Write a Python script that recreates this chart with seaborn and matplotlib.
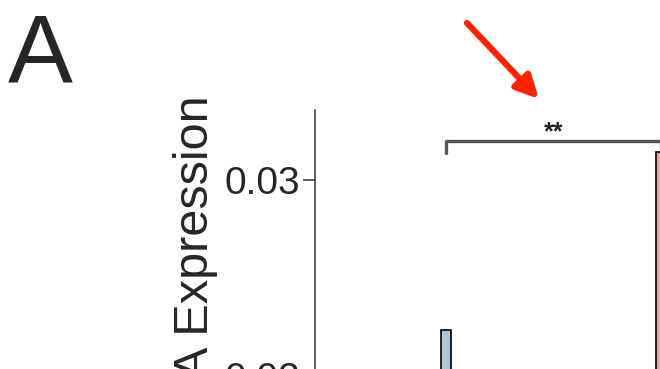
import matplotlib
matplotlib.use('Agg')
import matplotlib.pyplot as plt
import seaborn as sns

# data
grupos = ['Control', 'Treatment']
expressao = [0.02235, 0.03143]
cores = ['#a9c6df', '#e6a3a0']
yticks = [0.0, 0.01, 0.02, 0.03]
ytick_labels = ['0.00', '0.01', '0.02', '0.03']
significancia = '**'

sns.set_style('ticks')
plt.rcParams['font.family'] = ['Liberation Sans', 'DejaVu Sans']

fig = plt.figure(figsize=(6.6, 3.69), dpi=100)
# eixo maior que a figura: so o canto superior esquerdo aparece
largura = 453.5
ax = fig.add_axes([315 / 660, 1 - 110 / 369 - 658 / 369, largura / 660, 658 / 369])

sns.barplot(x=grupos, y=expressao, hue=grupos, palette=cores, legend=False,
            width=0.0465, edgecolor='black', linewidth=1.2, ax=ax)

ax.set_xlim(-0.6093, 1.5)
ax.set_ylim(0, 0.03357)
ax.set_yticks(yticks)
ax.set_yticklabels(ytick_labels, fontsize=28)
ax.tick_params(axis='y', length=8.5, width=1.1, pad=2, color='#333333')
ax.tick_params(axis='x', length=0, labelbottom=False)
ax.set_xlabel('')
for lado in ['top', 'right', 'bottom']:
    ax.spines[lado].set_visible(False)
ax.spines['left'].set_linewidth(1.1)
ax.spines['left'].set_color('#333333')

ax.set_ylabel('mRNA Expression', fontsize=35, loc='top')
ax.yaxis.set_label_coords(-97 / largura, 1 + 15 / 658)

# colchete de significancia
ax.plot([0, 0, 1, 1], [0.03138, 0.03199, 0.03199, 0.03138],
        color='#555555', lw=2.4, clip_on=False)
ax.text(0.5, 0.03209, significancia, ha='center', va='baseline',
        fontsize=18, fontweight='bold', color='#222222')

# letra do painel
fig.text(8 / 660, 1 - 82 / 369, 'A', fontsize=70, va='baseline', ha='left')

# seta vermelha
ax.annotate('', xy=(539, 369 - 99), xytext=(467, 369 - 23),
            xycoords='figure pixels', textcoords='figure pixels',
            arrowprops=dict(arrowstyle='-|>', color='#ff2200', lw=4.5,
                            mutation_scale=34, shrinkA=0, shrinkB=0))

plt.savefig('out.png', dpi=100)
